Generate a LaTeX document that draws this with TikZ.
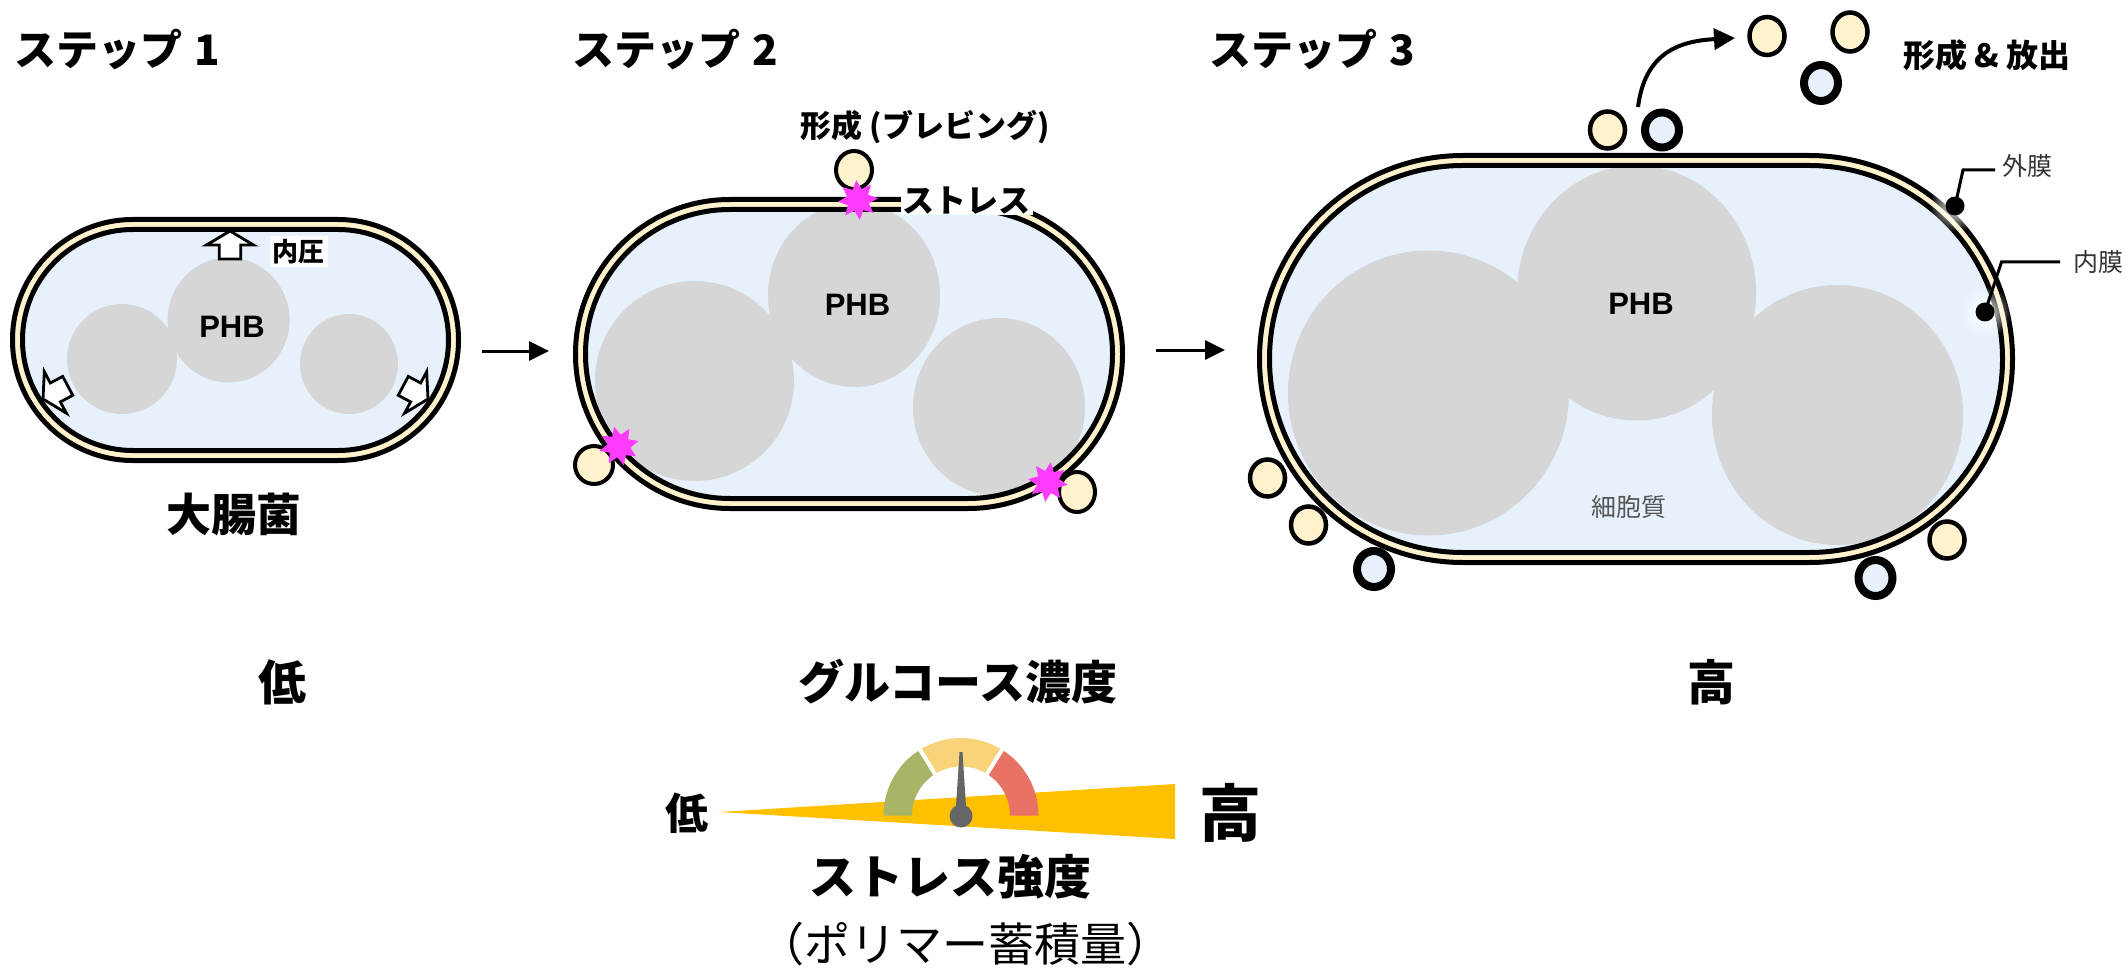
\documentclass[tikz,border=0pt]{standalone}
\usepackage{fontspec}
\setmainfont{Noto Sans CJK JP}
\newfontfamily\latinsans{Liberation Sans}
\usetikzlibrary{arrows.meta,shapes.geometric,fadings}

\definecolor{cream}{HTML}{FFF2CC}
\definecolor{cyto}{HTML}{E7F1FC}
\definecolor{phbgray}{HTML}{D6D6D6}
\definecolor{stressmark}{HTML}{FF3BFF}
\definecolor{gaugegreen}{HTML}{A9B566}
\definecolor{gaugeyellow}{HTML}{F8D37A}
\definecolor{gaugered}{HTML}{E87264}
\definecolor{needlegray}{HTML}{666666}
\definecolor{wedgeyellow}{HTML}{FFC000}
\definecolor{notegray}{HTML}{333333}
\definecolor{cytotext}{HTML}{555555}

\tikzfading[name=softglow, inner color=transparent!0, outer color=transparent!100]

\newcommand\fsz[1]{\fontsize{#1pt}{#1pt}\selectfont}

\begin{document}
\begin{tikzpicture}[x=1pt,y=-1pt,
  envelope/.style={draw=black, line width=5pt, fill=cream},
  membrane/.style={draw=black, line width=5pt},
  granule/.style={fill=phbgray},
  bleb/.style={draw=black, line width=4.5pt, fill=cream},
  vesicle/.style={draw=black, line width=8pt, fill=cyto},
  stressstar/.style={star, star points=8, star point ratio=1.75, fill=stressmark,
                     minimum size=40pt, inner sep=0pt, draw=none},
  pressurearrow/.style={draw=black, fill=white, line width=2.8pt, line join=miter},
  steplabel/.style={font=\fsz{42}\bfseries, anchor=base west, inner sep=0pt},
  phblabel/.style={font=\latinsans\fsz{31}\bfseries, inner sep=0pt},
  biglabel/.style={font=\fsz{48}\bfseries, inner sep=0pt},
  notelabel/.style={font=\fsz{25}, text=notegray, inner sep=0pt},
  flowarrow/.style={line width=3pt, -{Triangle[length=20pt,width=19pt]}},
  leader/.style={line width=3pt, line join=miter},
  stresslabel/.style={font=\fsz{32}\bfseries, fill=white, inner xsep=2pt, inner ysep=1pt}
]
\useasboundingbox (0,0) rectangle (2127,973);
\fill[white] (0,0) rectangle (2127,973);

% ---------------- step 1 ----------------
\node[steplabel] (step1) at (14,66) {ステップ\hspace{12pt}1};
\draw[envelope, rounded corners=120.4pt] (12.5,219.5) rectangle (458.5,460.5);
\fill[cyto, rounded corners=110.4pt] (22.5,229.5) rectangle (448.5,450.5);
\begin{scope}
  \clip[rounded corners=110.4pt] (22.5,229.5) rectangle (448.5,450.5);
  \fill[granule] (122,359) ellipse[x radius=55, y radius=55];
  \fill[granule] (228.6,320) ellipse[x radius=61, y radius=62.5];
  \fill[granule] (349,364) ellipse[x radius=49, y radius=50];
\end{scope}
\draw[membrane, rounded corners=110.4pt] (22.5,229.5) rectangle (448.5,450.5);
\node[phblabel] (phb1) at (232,327) {PHB};

% turgor pressure arrows
\draw[pressurearrow, shift={(230,231)}]
  (0,0) -- (23.5,14) -- (10.7,14) -- (10.7,28) -- (-10.7,28) -- (-10.7,14) -- (-23.5,14) -- cycle;
\draw[pressurearrow, shift={(43,399)}, rotate=118]
  (0,0) -- (23.5,14) -- (10.7,14) -- (10.7,28) -- (-10.7,28) -- (-10.7,14) -- (-23.5,14) -- cycle;
\draw[pressurearrow, shift={(428,399)}, rotate=-118]
  (0,0) -- (23.5,14) -- (10.7,14) -- (10.7,28) -- (-10.7,28) -- (-10.7,14) -- (-23.5,14) -- cycle;
\node[font=\fsz{26}\bfseries, fill=white, inner sep=3pt] (turgor) at (298.5,251.5) {内圧};

\node[font=\fsz{45}\bfseries, inner sep=0pt] (ecoli) at (234,514) {大腸菌};

\coordinate (f1s) at (482,351);
\coordinate (f1e) at (549,351);
\draw[flowarrow] (f1s) -- (f1e);

% ---------------- step 2 ----------------
\node[steplabel] (step2) at (572,66) {ステップ\hspace{12pt}2};
\draw[envelope, rounded corners=154.4pt] (575.5,199.5) rectangle (1122.5,508.5);
\fill[cyto, rounded corners=144.4pt] (585.5,209.5) rectangle (1112.5,498.5);
\begin{scope}
  \clip[rounded corners=144.4pt] (585.5,209.5) rectangle (1112.5,498.5);
  \fill[granule] (694.5,381) ellipse[x radius=99.5, y radius=100];
  \fill[granule] (854,295) ellipse[x radius=86, y radius=92];
  \fill[granule] (999,407) ellipse[x radius=86, y radius=89];
\end{scope}
\draw[membrane, rounded corners=144.4pt] (585.5,209.5) rectangle (1112.5,498.5);
\node[phblabel] (phb2) at (857.5,305) {PHB};

\draw[bleb, line width=4pt] (854,170) ellipse[x radius=18, y radius=19];
\draw[bleb, line width=4pt] (594,465) ellipse[x radius=19, y radius=19];
\draw[bleb, line width=4pt] (1077,492) ellipse[x radius=18, y radius=20];
\node[stressstar, shape border rotate=5] (s2top) at (858,200) {};
\node[stressstar, shape border rotate=14] (s2left) at (619,446) {};
\node[stressstar, shape border rotate=-8] (s2right) at (1048,482) {};

\node[font=\fsz{31}\bfseries, inner sep=0pt] (blebbing) at (925,127) {形成 (ブレビング)};
\node[stresslabel] (stress) at (966.5,200.5) {ストレス};

\coordinate (f2s) at (1156,350);
\coordinate (f2e) at (1225,350);
\draw[flowarrow] (f2s) -- (f2e);

% ---------------- step 3 ----------------
\node[steplabel] (step3) at (1209,66) {ステップ\hspace{12pt}3};
\draw[envelope, rounded corners=203.4pt] (1259.5,155.5) rectangle (2012.5,562.5);
\fill[cyto, rounded corners=193.4pt] (1269.5,165.5) rectangle (2002.5,552.5);
\begin{scope}
  \clip[rounded corners=193.4pt] (1269.5,165.5) rectangle (2002.5,552.5);
  \fill[granule] (1428.5,393) ellipse[x radius=140.5, y radius=142.5];
  \fill[granule] (1636.5,293) ellipse[x radius=119.5, y radius=127.5];
  \fill[granule] (1837.5,415) ellipse[x radius=125.5, y radius=130];
\end{scope}
\draw[membrane, rounded corners=193.4pt] (1269.5,165.5) rectangle (2002.5,552.5);
\node[phblabel] (phb3) at (1641,304) {PHB};
\node[notelabel, text=cytotext] (cytoplasm) at (1629,507) {細胞質};

% vesicles on the envelope
\draw[bleb] (1607.5,130) ellipse[x radius=17.5, y radius=18.5];
\draw[vesicle] (1662,130) ellipse[x radius=17, y radius=17.5];
\draw[bleb] (1267.5,478) ellipse[x radius=17.5, y radius=18.5];
\draw[bleb] (1308.5,525) ellipse[x radius=17.5, y radius=18.5];
\draw[vesicle] (1374,569) ellipse[x radius=17, y radius=18];
\draw[bleb] (1947,540) ellipse[x radius=17.5, y radius=18.5];
\draw[vesicle] (1875.5,578) ellipse[x radius=17, y radius=18];
% released vesicles
\draw[bleb] (1767,36) ellipse[x radius=17.5, y radius=19];
\draw[bleb] (1850,32) ellipse[x radius=17.5, y radius=19.5];
\draw[vesicle] (1821,83) ellipse[x radius=17, y radius=18];

\coordinate (relS) at (1638,107);
\coordinate (relE) at (1735,38);
\draw[line width=4pt, -{Triangle[length=21pt,width=21pt]}]
  (relS) .. controls (1645,52) and (1680,41) .. (relE);
\node[font=\fsz{32}\bfseries, inner sep=0pt] (release) at (1987,55) {形成 \& 放出};

% membrane callouts
\fill[white, path fading=softglow] (1955,206) circle[radius=26];
\fill[white, path fading=softglow] (1985,312) circle[radius=26];
\coordinate (omDot) at (1955,206);
\coordinate (omBend) at (1963,170);
\coordinate (omEnd) at (1995,170);
\coordinate (imDot) at (1985,312);
\coordinate (imBend) at (2001.5,262);
\coordinate (imEnd) at (2060,262);
\draw[leader] (omDot) -- (omBend) -- (omEnd);
\draw[leader] (imDot) -- (imBend) -- (imEnd);
\fill[black] (omDot) circle[radius=9.5];
\fill[black] (imDot) circle[radius=9.5];
\node[notelabel] (outerm) at (2027.5,166) {外膜};
\node[notelabel] (innerm) at (2098,262) {内膜};

% ---------------- glucose axis ----------------
\node[biglabel] (glow) at (282,682) {低};
\node[font=\fsz{46}\bfseries, inner sep=0pt] (glucose) at (958,682) {グルコース濃度};
\node[biglabel] (ghigh) at (1711,682) {高};

% ---------------- stress gauge ----------------
\fill[wedgeyellow] (719,812) -- (1175,784) -- (1175,839) -- cycle;
\begin{scope}[shift={(961,815.5)}]
  \fill[gaugegreen] (-180:77.5) arc[start angle=-180,end angle=-122,radius=77.5]
     -- (-122:49) arc[start angle=-122,end angle=-180,radius=49] -- cycle;
  \fill[gaugeyellow] (-122:77.5) arc[start angle=-122,end angle=-58,radius=77.5]
     -- (-58:49) arc[start angle=-58,end angle=-122,radius=49] -- cycle;
  \fill[gaugered] (-58:77.5) arc[start angle=-58,end angle=0,radius=77.5]
     -- (0:49) arc[start angle=0,end angle=-58,radius=49] -- cycle;
  \draw[white, line width=4pt] (-122:46) -- (-122:81);
  \draw[white, line width=4pt] (-58:46) -- (-58:81);
\end{scope}
\fill[needlegray] (956,806) -- (959.5,752) -- (962.5,752) -- (966,806) -- cycle;
\fill[needlegray] (961,816) circle[radius=11.5];

\node[font=\fsz{43}\bfseries, inner sep=0pt] (slow) at (687,813) {低};
\node[font=\fsz{62}\bfseries, inner sep=0pt] (shigh) at (1230,813) {高};
\node[font=\fsz{47}\bfseries, inner sep=0pt] (intensity) at (950,877) {ストレス強度};
\node[font=\fsz{46}, inner sep=0pt] (polymer) at (965,944) {（ポリマー蓄積量）};
\end{tikzpicture}
\end{document}
